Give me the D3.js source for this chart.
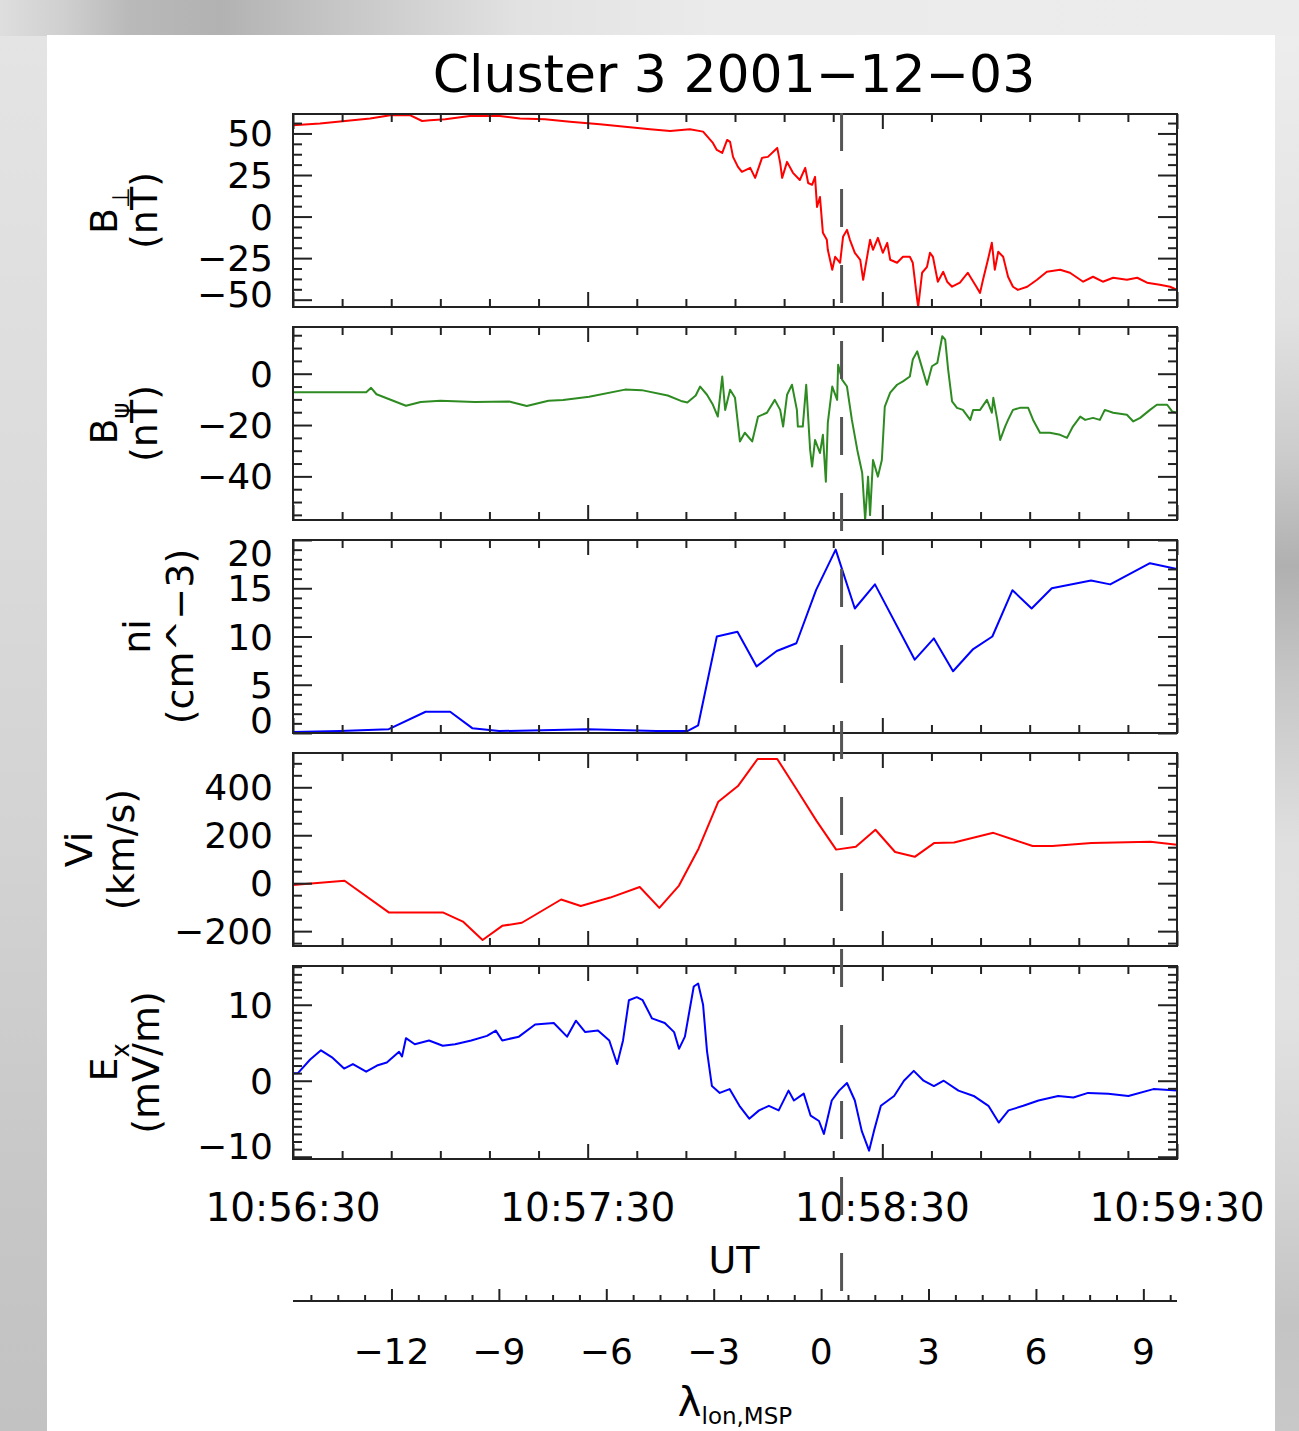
<!DOCTYPE html>
<html>
<head>
<meta charset="utf-8">
<script src="https://cdn.jsdelivr.net/npm/d3@7"></script>
<style>
  html, body { margin: 0; padding: 0; background: #ebebeb; }
  svg { display: block; }
  text { font-family: "DejaVu Sans", "Liberation Sans", sans-serif; fill: #000; }
</style>
</head>
<body>
<svg id="chart" width="1299" height="1431"></svg>
<script>
// ---- data (time in seconds after 10:56:30 UT) ----
const titleText = "Cluster 3 2001\u221212\u221203";
const timeTickSeconds = [0, 60, 120, 180];
const timeTickLabels = ["10:56:30", "10:57:30", "10:58:30", "10:59:30"];
const lambdaTicks = [-12, -9, -6, -3, 0, 3, 6, 9];
const lambdaRange = [-14.75, 9.94];
const markSeconds = 111.7;

const bPerp = [[0,55],[5.5,56],[10.6,57.5],[15.7,59],[19.8,61],[23.8,61],[26.3,57.5],[27.9,58],[31,58.5],[36,60.5],[42.1,60.5],[46.2,59],[51.3,58.5],[56.4,57],[62.5,55.5],[67.6,54],[72.7,52.5],[76.8,51.5],[80.8,52.5],[83.5,51.1],[85.5,44.3],[86.3,40.1],[87.4,38.3],[88.4,46.1],[89.0,44.9],[89.6,35.9],[90.6,29.9],[91.4,26.9],[93.1,29.3],[94.1,23.3],[95.5,35.3],[96.7,35.9],[98.6,41.3],[99.2,32.3],[99.6,23.3],[100.6,32.9],[101.8,26.3],[103.2,22.0],[104.3,29.3],[104.9,20.2],[105.7,19.1],[106.3,23.9],[106.7,5.8],[107.3,11.8],[107.9,-9.8],[108.7,-14.0],[108.9,-20.0],[109.8,-32.0],[110.4,-24.2],[111.4,-27.8],[112.0,-12.2],[112.8,-8.0],[113.4,-14.0],[114.4,-21.8],[115.5,-26.0],[116.1,-38.0],[116.9,-24.2],[117.5,-14.0],[118.1,-20.0],[119.1,-12.8],[120.1,-21.8],[121.0,-15.8],[121.6,-26.0],[123.0,-27.8],[124.2,-24.2],[125.6,-24.2],[126.2,-27.8],[127.1,-50.1],[127.3,-54.3],[128.1,-33.8],[129.1,-30.2],[129.7,-21.8],[130.3,-24.2],[131.3,-39.2],[132.4,-33.2],[133.2,-39.2],[134.2,-42.2],[135.8,-39.8],[137.4,-33.8],[138.9,-41.0],[139.9,-45.9],[140.5,-38.0],[141.5,-26.0],[142.3,-15.8],[142.9,-32.0],[143.6,-21.2],[144.6,-24.2],[145.6,-36.2],[146.6,-42.2],[147.6,-44.1],[149.5,-42.2],[151.5,-38.0],[153.5,-33.2],[156.2,-32.0],[158.2,-33.8],[160.9,-39.2],[162.9,-36.2],[164.9,-39.2],[167.0,-36.8],[169.8,-38.0],[171.9,-36.8],[173.9,-39.8],[176.5,-41.0],[178.6,-42.2],[180,-44.1]];

const bPsi = [[0,-7.2],[14.9,-7.2],[15.9,-5.5],[17,-8],[23,-12.5],[26,-11],[30,-10.5],[37,-11],[44,-10.8],[47.6,-12.6],[52,-10.5],[55,-10.2],[60.3,-9],[67.6,-6.2],[71,-6.4],[76.3,-8.5],[79,-10.6],[80.3,-11.2],[82,-8.5],[82.9,-5.0],[84.3,-8.2],[85.5,-12.1],[86.5,-16.7],[87.4,-1.1],[88.0,-14.1],[89.0,-6.25],[90.0,-9.4],[91.0,-26.4],[92.0,-23.0],[93.5,-26.4],[94.7,-16.7],[96.5,-15.2],[98.1,-10.2],[99.2,-14.1],[99.8,-20.6],[100.6,-8.2],[101.6,-4.3],[102.6,-14.1],[102.8,-20.6],[103.8,-20.6],[104.5,-4.3],[105.3,-29.7],[105.7,-36.2],[106.3,-25.8],[107.3,-30.9],[107.9,-23.8],[108.5,-42.1],[108.9,-19.1],[109.8,-5.0],[110.8,-10.2],[111.0,3.5],[111.8,-2.3],[112.8,-5.0],[113.8,-18.0],[114.9,-29.7],[115.9,-38.7],[116.5,-57.0],[117.1,-40.1],[117.5,-55.1],[118.1,-33.6],[119.1,-40.1],[119.9,-33.6],[120.5,-12.8],[121.6,-7.4],[123.0,-4.3],[124.2,-3.0],[125.6,-1.1],[126.2,5.5],[127.1,8.7],[127.7,4.8],[129.1,-4.3],[130.1,2.9],[131.2,4.2],[132.2,14.6],[132.8,13.3],[133.4,1.6],[134.2,-10.8],[135.2,-13.3],[136.4,-14.1],[137.9,-18.0],[138.5,-14.1],[139.9,-14.1],[141.3,-10.2],[142.3,-15.2],[142.6,-9.4],[143.4,-18.0],[144.0,-25.8],[145.0,-20.6],[145.6,-18.0],[146.6,-14.1],[148.0,-13.3],[149.7,-13.3],[150.7,-18.0],[152.1,-23.0],[154.1,-23.0],[156.2,-23.8],[157.6,-25.0],[158.8,-20.6],[160.3,-16.7],[161.3,-18.0],[162.9,-17.2],[164.3,-18.0],[165.3,-14.1],[167.0,-15.2],[169.8,-16.0],[171.1,-18.6],[172.5,-17.2],[174.5,-14.1],[175.9,-12.1],[178.0,-12.1],[179.0,-14.7],[180,-15.2]];

const ionDensity = [[0,0.1],[9.6,0.2],[19.5,0.4],[27,2.2],[32,2.2],[36.5,0.5],[42,0.2],[60,0.4],[74,0.2],[80.3,0.2],[82.5,0.8],[86.3,10.0],[90.5,10.5],[94.4,6.9],[98.5,8.5],[102.5,9.3],[106.5,14.8],[110.5,19.0],[114.4,12.9],[118.5,15.4],[126.6,7.6],[130.5,9.8],[134.4,6.4],[138.5,8.7],[142.4,10.0],[146.5,14.8],[150.4,12.9],[154.5,15.0],[162.5,15.8],[166.4,15.4],[174.5,17.6],[180,17.0]];

const ionVelocity = [[0,-8],[10.5,10],[19.5,-122],[30.5,-122],[34.6,-160],[38.6,-237],[42.6,-178],[46.6,-165],[54.6,-68],[58.6,-95],[64.6,-60],[70.6,-16],[74.6,-103],[78.6,-10],[82.6,145],[86.6,340],[90.6,405],[94.6,518],[98.6,518],[102.6,390],[106.6,260],[110.6,140],[114.6,152],[118.6,223],[122.6,130],[126.6,110],[130.6,168],[134.6,170],[142.6,210],[150.6,155],[154.6,155],[162.6,168],[174.6,173],[180,160]];

const electricEx = [[0,1.0],[1.0,1.0],[3.5,2.8],[5.7,4.0],[8.1,3.0],[10.4,1.6],[12.2,2.2],[14.9,1.2],[17.1,2.0],[19.1,2.4],[21.6,3.8],[22.2,3.2],[23.0,5.6],[24.8,4.8],[27.7,5.3],[30.5,4.6],[33.0,4.8],[36.3,5.3],[39.5,5.9],[41.3,6.6],[42.6,5.3],[46.0,5.8],[49.3,7.4],[53.1,7.6],[55.8,5.8],[57.6,7.9],[59.5,6.4],[62.1,6.6],[64.4,5.3],[66.0,2.2],[67.2,5.3],[68.4,10.6],[70.0,11.0],[71.2,10.6],[73.1,8.2],[75.7,7.6],[77.6,6.4],[78.6,4.2],[79.8,5.8],[81.6,12.4],[82.5,12.8],[83.5,10.0],[84.3,3.9],[85.3,-0.7],[86.9,-1.6],[88.9,-1.1],[90.9,-3.3],[92.9,-5.0],[94.9,-3.9],[96.9,-3.3],[98.9,-3.9],[100.9,-1.3],[102.0,-2.6],[104.0,-1.7],[105.4,-4.6],[107.1,-5.3],[108.1,-7.0],[109.7,-2.6],[111.2,-1.3],[112.8,-0.3],[114.4,-2.6],[115.8,-6.6],[117.3,-9.2],[118.3,-6.6],[119.7,-3.3],[122.4,-2.0],[124.4,0],[126.4,1.3],[128.4,0],[130.5,-0.7],[132.5,0],[135.5,-1.3],[138.6,-2.0],[141.6,-3.3],[143.7,-5.5],[145.7,-3.9],[148.7,-3.3],[151.8,-2.6],[155.8,-2.0],[158.9,-2.2],[161.9,-1.6],[166.0,-1.7],[170.1,-2.0],[175.2,-1.1],[180,-1.3]];

// panel axis settings
const panelSeries = [bPerp, bPsi, ionDensity, ionVelocity, electricEx];
const panelColors = ["#ff0000", "#2e8b22", "#0000ff", "#ff0000", "#0000ff"];
const panelDomains = [[-54.4, 61.7], [-57, 18.2], [0, 20], [-262, 543], [-10.3, 15.1]];
const panelMajorTicks = [[-50, -25, 0, 25, 50], [-40, -20, 0], [0, 5, 10, 15, 20], [-200, 0, 200, 400], [-10, 0, 10]];
const panelMinorSteps = [6.25, 5, 1, 50, 1];
const panelTitles = [
  [["B", ""], ["\u22a5", "sub"]],
  [["B", ""], ["\u03c8", "sub"]],
  [["ni", ""]],
  [["Vi", ""]],
  [["E", ""], ["x", "sub"]]
];
const panelUnits = ["(nT)", "(nT)", "(cm^\u22123)", "(km/s)", "(mV/m)"];

// ---- layout ----
const W = 1299, H = 1431;
const plotLeft = 293, plotRight = 1177;
const panelTop0 = 114, panelH = 193, panelStep = 213;
const titleBase = [[117, 157], [117, 157], [150, 193], [92, 134], [117, 159]];

const svg = d3.select("#chart");
const defs = svg.append("defs");

// ---- backdrop ----
const gTop = defs.append("linearGradient").attr("id", "gTop").attr("x1", 0).attr("x2", 1).attr("y1", 0).attr("y2", 0);
[[0, "#dedede"], [0.05, "#cfcfcf"], [0.1, "#b9b9b9"], [0.17, "#b2b2b2"], [0.25, "#c4c4c4"], [0.4, "#e2e2e2"], [0.55, "#ebebeb"], [1, "#ececec"]]
  .forEach(([o, c]) => gTop.append("stop").attr("offset", o).attr("stop-color", c));
const gLeft = defs.append("linearGradient").attr("id", "gLeft").attr("x1", 0).attr("x2", 0).attr("y1", 0).attr("y2", 1);
[[0, "#e4e4e4"], [0.3, "#dcdcdc"], [0.6, "#d2d2d2"], [0.85, "#c6c6c6"], [1, "#c2c2c2"]]
  .forEach(([o, c]) => gLeft.append("stop").attr("offset", o).attr("stop-color", c));
const gRight = defs.append("linearGradient").attr("id", "gRight").attr("x1", 0).attr("x2", 0).attr("y1", 0).attr("y2", 1);
[[0, "#ededed"], [0.2, "#e2e2e2"], [0.3, "#cccccc"], [0.38, "#b0b0b0"], [0.46, "#c6c6c6"], [0.58, "#e0e0e0"], [0.7, "#e2e2e2"], [0.82, "#d4d4d4"], [0.92, "#c4c4c4"], [1, "#c8c8c8"]]
  .forEach(([o, c]) => gRight.append("stop").attr("offset", o).attr("stop-color", c));

svg.append("rect").attr("width", W).attr("height", H).attr("fill", "#ebebeb");
svg.append("rect").attr("x", 0).attr("y", 0).attr("width", W).attr("height", 36).attr("fill", "url(#gTop)");
svg.append("rect").attr("x", 0).attr("y", 36).attr("width", 47).attr("height", H - 36).attr("fill", "url(#gLeft)");
svg.append("rect").attr("x", 1275).attr("y", 36).attr("width", 24).attr("height", H - 36).attr("fill", "url(#gRight)");
svg.append("rect").attr("x", 47).attr("y", 35).attr("width", 1228).attr("height", H - 35).attr("fill", "#ffffff");

// ---- title ----
svg.append("text").attr("x", 734).attr("y", 92).attr("text-anchor", "middle")
  .attr("font-size", 52).text(titleText);

// ---- scales ----
const x = d3.scaleLinear().domain([0, 180]).range([plotLeft, plotRight]);
const lam = d3.scaleLinear().domain(lambdaRange).range([plotLeft, plotRight]);

const minorTimes = d3.range(10, 180, 10).filter(t => !timeTickSeconds.includes(t));

function styleAxis(sel) {
  sel.select(".domain").remove();
  sel.selectAll(".tick line").attr("stroke", "#222").attr("stroke-width", 2);
}

panelSeries.forEach((series, i) => {
  const top = panelTop0 + i * panelStep;
  const g = svg.append("g").attr("transform", `translate(0,${top})`);
  const y = d3.scaleLinear().domain(panelDomains[i]).range([panelH, 0]);
  const [d0, d1] = panelDomains[i];
  const step = panelMinorSteps[i];
  const majors = panelMajorTicks[i];
  const minors = d3.range(Math.ceil(d0 / step - 1e-9), Math.floor(d1 / step + 1e-9) + 1)
    .map(k => +(k * step).toFixed(4))
    .filter(v => !majors.some(m => Math.abs(m - v) < 1e-6));

  // clip for data
  const clipId = "clip" + i;
  defs.append("clipPath").attr("id", clipId).append("rect")
    .attr("x", plotLeft).attr("y", 0).attr("width", plotRight - plotLeft).attr("height", panelH);

  const line = d3.line().x(d => x(d[0])).y(d => y(d[1]));
  g.append("path").datum(series).attr("clip-path", `url(#${clipId})`)
    .attr("fill", "none").attr("stroke", panelColors[i]).attr("stroke-width", 2)
    .attr("stroke-linejoin", "round").attr("d", line);

  // y ticks left and right
  g.append("g").attr("transform", `translate(${plotLeft},0)`)
    .call(d3.axisLeft(y).tickValues(minors).tickSize(-9).tickFormat("")).call(styleAxis);
  g.append("g").attr("transform", `translate(${plotRight},0)`)
    .call(d3.axisRight(y).tickValues(minors).tickSize(-9).tickFormat("")).call(styleAxis);
  g.append("g").attr("transform", `translate(${plotRight},0)`)
    .call(d3.axisRight(y).tickValues(majors).tickSize(-19).tickFormat("")).call(styleAxis);
  const left = g.append("g").attr("transform", `translate(${plotLeft},0)`)
    .call(d3.axisLeft(y).tickValues(majors).tickSize(-19).tickPadding(20).tickFormat(d3.format("d")))
    .call(styleAxis);
  left.selectAll(".tick text").attr("font-size", 36).attr("font-family", null)
    .attr("dy", null).attr("dominant-baseline", "central")
    .attr("y", d => {
      const p = y(d);
      const c = Math.max(13, Math.min(panelH - 13, p));
      return c - p;
    });

  // x ticks top and bottom
  g.append("g").call(d3.axisTop(x).tickValues(minorTimes).tickSize(-8).tickFormat("")).call(styleAxis);
  g.append("g").call(d3.axisTop(x).tickValues(timeTickSeconds).tickSize(-15).tickFormat("")).call(styleAxis);
  g.append("g").attr("transform", `translate(0,${panelH})`)
    .call(d3.axisBottom(x).tickValues(minorTimes).tickSize(-8).tickFormat("")).call(styleAxis);
  g.append("g").attr("transform", `translate(0,${panelH})`)
    .call(d3.axisBottom(x).tickValues(timeTickSeconds).tickSize(-15).tickFormat("")).call(styleAxis);

  // frame
  g.append("rect").attr("x", plotLeft).attr("y", 0).attr("width", plotRight - plotLeft).attr("height", panelH)
    .attr("fill", "none").attr("stroke", "#222").attr("stroke-width", 2);

  // rotated two-line axis title
  const cy = panelH / 2;
  const t1 = g.append("text").attr("transform", `translate(${titleBase[i][0]},${cy}) rotate(-90)`)
    .attr("text-anchor", "middle").attr("font-size", 38);
  panelTitles[i].forEach(([s, kind]) => {
    if (kind === "sub") t1.append("tspan").attr("font-size", 24).attr("dy", 12).text(s);
    else t1.append("tspan").text(s);
  });
  g.append("text").attr("transform", `translate(${titleBase[i][1]},${cy}) rotate(-90)`)
    .attr("text-anchor", "middle").attr("font-size", 38).text(panelUnits[i]);
});

// ---- UT labels ----
svg.append("g").selectAll("text").data(timeTickSeconds).join("text")
  .attr("x", d => x(d)).attr("y", 1221).attr("text-anchor", "middle")
  .attr("font-size", 39).text((d, i) => timeTickLabels[i]);
svg.append("text").attr("x", 734).attr("y", 1273).attr("text-anchor", "middle")
  .attr("font-size", 38).text("UT");

// ---- longitude axis ----
const lamMinor = d3.range(-14.25, 10, 0.75).filter(v => !lambdaTicks.some(m => Math.abs(m - v) < 1e-6));
const lamAxisY = 1301;
svg.append("line").attr("x1", plotLeft).attr("x2", plotRight).attr("y1", lamAxisY).attr("y2", lamAxisY)
  .attr("stroke", "#222").attr("stroke-width", 2);
svg.append("g").attr("transform", `translate(0,${lamAxisY})`)
  .call(d3.axisTop(lam).tickValues(lamMinor).tickSize(6).tickFormat("")).call(styleAxis);
svg.append("g").attr("transform", `translate(0,${lamAxisY})`)
  .call(d3.axisTop(lam).tickValues(lambdaTicks).tickSize(12).tickFormat("")).call(styleAxis);
svg.append("g").selectAll("text").data(lambdaTicks).join("text")
  .attr("x", d => lam(d)).attr("y", 1364).attr("text-anchor", "middle")
  .attr("font-size", 36).text(d3.format("d"));
const lamTitle = svg.append("text").attr("x", 735).attr("y", 1416).attr("text-anchor", "middle").attr("font-size", 40);
lamTitle.append("tspan").text("\u03bb");
lamTitle.append("tspan").attr("font-size", 23).attr("dy", 8).text("lon,MSP");

// ---- marker line ----
svg.append("line").attr("x1", x(markSeconds)).attr("x2", x(markSeconds))
  .attr("y1", 113).attr("y2", 1303)
  .attr("stroke", "#555").attr("stroke-width", 3).attr("stroke-dasharray", "38,38");
</script>
</body>
</html>
